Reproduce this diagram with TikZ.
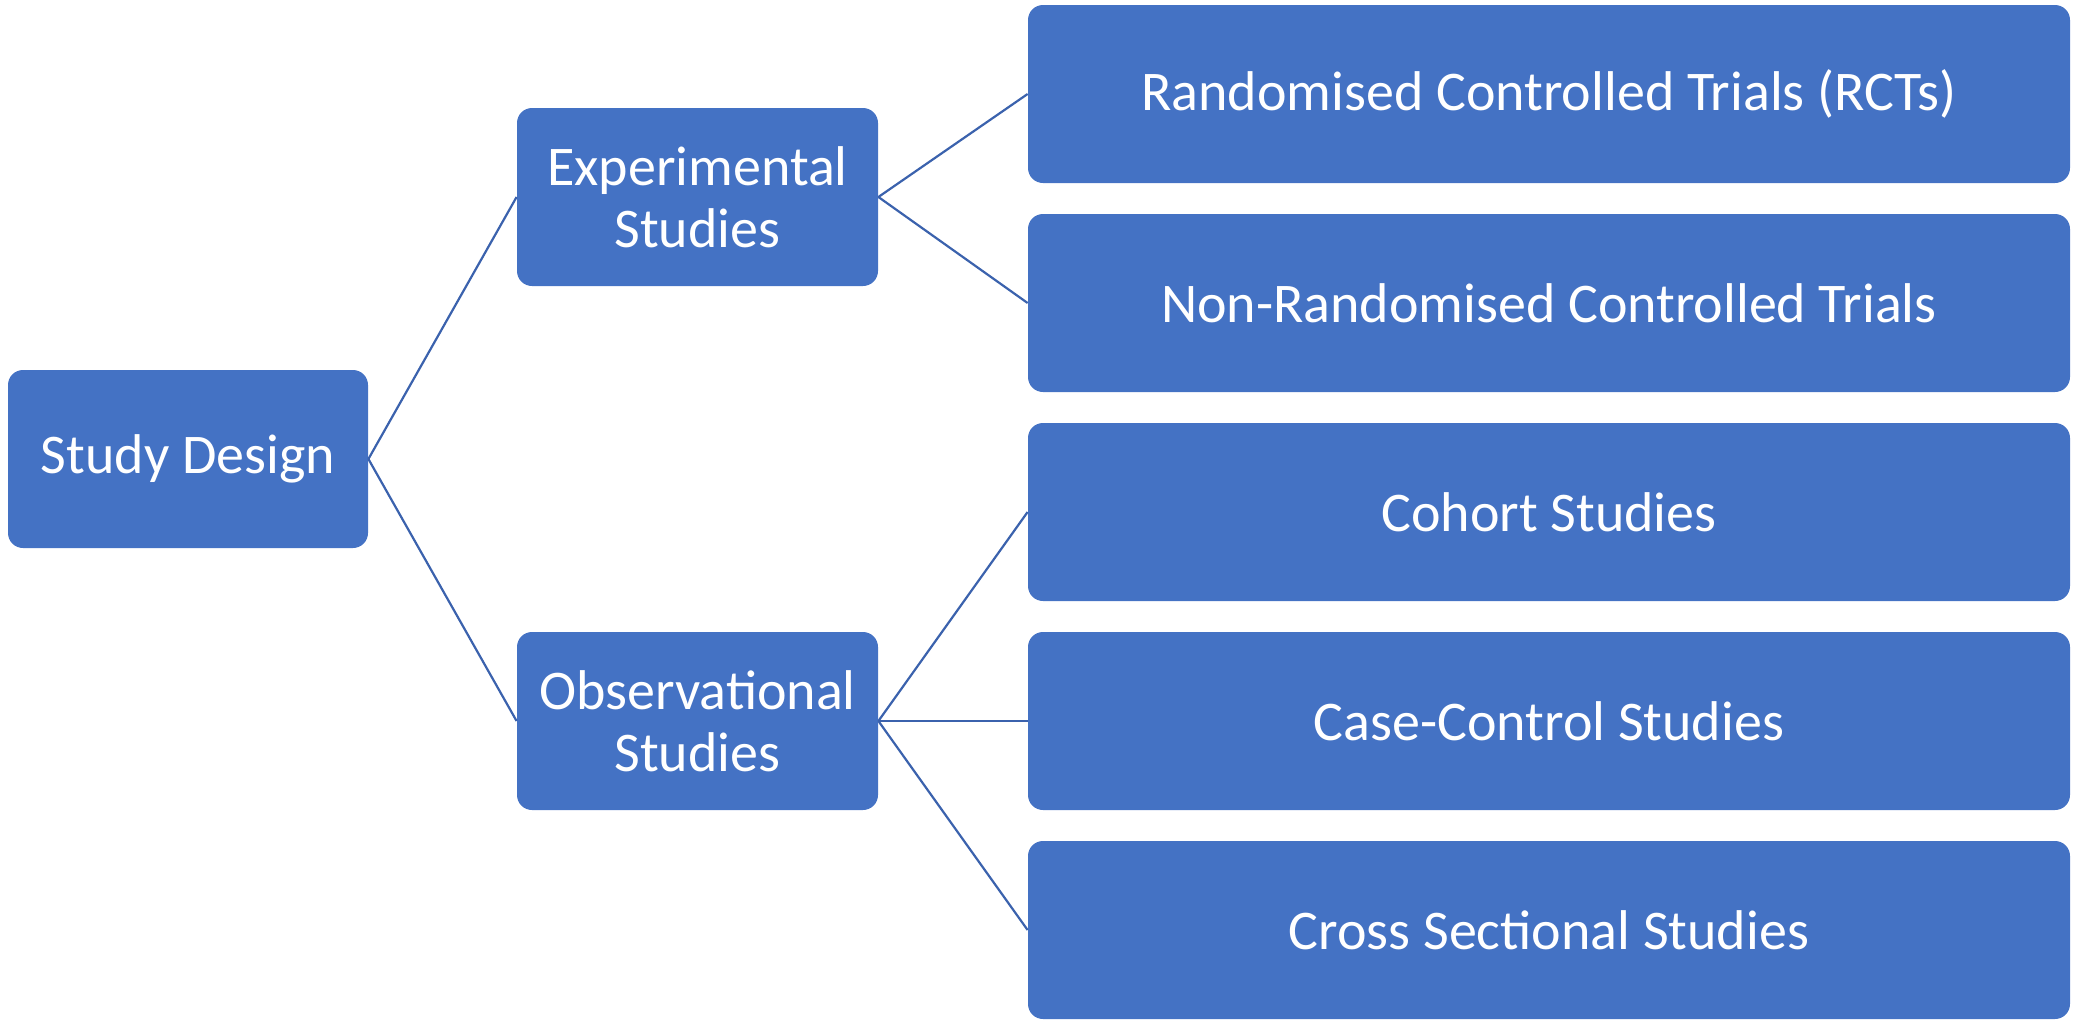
\documentclass[tikz,border=0pt]{standalone}
\usepackage{fontspec}
\setmainfont{Carlito}
\definecolor{boxblue}{HTML}{4472C4}
\definecolor{linkblue}{HTML}{3B62AD}
\begin{document}
\begin{tikzpicture}[x=0.5pt,y=-0.5pt,
  box/.style={draw=none, fill=boxblue, rounded corners=7.5pt, inner sep=0pt,
    text=white, align=center, font=\fontsize{28}{31}\selectfont},
  leftbox/.style={box, minimum width=180pt, minimum height=89pt},
  midbox/.style={box, minimum width=180.5pt, minimum height=89pt},
  wide/.style={box, minimum width=521pt, minimum height=89pt},
  link/.style={draw=linkblue, line width=1.1pt}]
\useasboundingbox (0,0) rectangle (2074,1023);

\node[leftbox] (sd) at (188,459) {Study Design};
\node[midbox] (exp) at (697.5,197) {Experimental\\Studies};
\node[midbox] (obs) at (697.5,721) {Observational\\Studies};

\node[wide] (rct) at (1549,94) {Randomised Controlled Trials (RCTs)};
\node[wide] (nrct) at (1549,303) {Non-Randomised Controlled Trials};
\node[wide] (coh) at (1549,512) {Cohort Studies};
\node[wide] (cc) at (1549,721) {Case-Control Studies};
\node[wide] (cs) at (1549,930) {Cross Sectional Studies};

\draw[link] (sd.east) -- (exp.west);
\draw[link] (sd.east) -- (obs.west);
\draw[link] (exp.east) -- (rct.west);
\draw[link] (exp.east) -- (nrct.west);
\draw[link] (obs.east) -- (coh.west);
\draw[link] (obs.east) -- (cc.west);
\draw[link] (obs.east) -- (cs.west);
\end{tikzpicture}
\end{document}
